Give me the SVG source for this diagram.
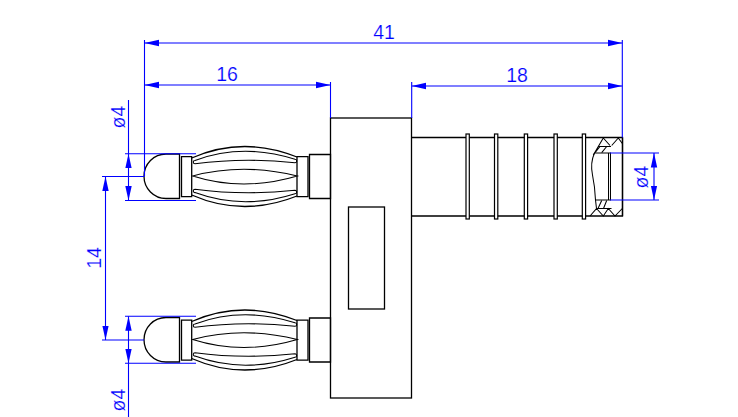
<svg xmlns="http://www.w3.org/2000/svg" width="738" height="417" viewBox="0 0 738 417">
<style>
.k{fill:none;stroke:#000;stroke-width:1.3}
.t{fill:none;stroke:#000;stroke-width:1.05}
.b{fill:none;stroke:#00f;stroke-width:1.1}
.a{marker-start:url(#arr);marker-end:url(#arr)}
text{font-family:"Liberation Sans",Arial,sans-serif;font-size:19.5px;fill:#00f;text-anchor:middle;stroke:#fff;stroke-width:.2}
</style>
<defs>
<marker id="arr" markerUnits="userSpaceOnUse" markerWidth="16" markerHeight="8" refX="14.500" refY="4" orient="auto-start-reverse" viewBox="0 0 16 8"><path d="M14.500 4L0 .8V7.200Z" fill="#00f"/></marker>
<g id="plug">
<path class="k" d="M166 154H179.500V198.500H166A22 22.250 0 0 1 166 154Z"/>
<path class="k" d="M181.500 156.700H191.700V196.700H181.500Z"/>
<path class="k" d="M191.700 158Q243 135.500 297 157M191.700 195Q243 217.500 297 196"/>
<path class="t" d="M195 160.400Q243 142.700 295 159.300A1.700 1.700 0 0 1 295 162.700Q243 157.400 195 163.800A1.700 1.700 0 0 1 195 160.400Z"/>
<path class="t" d="M192.700 176Q243 162.600 297.300 176Q243 192 192.700 176Z"/>
<path class="t" d="M195 192.600Q243 210.300 295 193.700A1.700 1.700 0 0 0 295 190.300Q243 195.600 195 189.200A1.700 1.700 0 0 0 195 192.600Z"/>
<path class="k" d="M297 156.700H308V196.700H297Z"/>
<path class="k" d="M309.500 154.500H330.500V198.500H309.500Z"/>
</g>
</defs>
<rect width="738" height="417" fill="#fff"/>
<g id="plug-top"><use href="#plug"/></g>
<g id="plug-bottom"><use href="#plug" y="163.500"/></g>
<g id="block">
<rect class="k" x="330.500" y="118" width="81" height="280"/>
<rect class="k" x="348.500" y="207" width="36" height="102"/>
</g>
<g id="shaft">
<path class="k" d="M411.500 137.500H622.500V216H411.500"/>
<g fill="#fff" stroke="#000" stroke-width="1.200">
<rect x="466" y="134" width="3.300" height="85"/>
<rect x="494.500" y="134" width="3.300" height="85"/>
<rect x="524.300" y="134" width="3.300" height="85"/>
<rect x="554" y="134" width="3.300" height="85"/>
<rect x="582.300" y="134" width="3.300" height="85"/>
</g>
<path class="k" d="M622.500 137.500V216"/>
<path class="t" d="M594.500 153Q590 163 592.500 175T595.500 200M594.500 153H610.500V200H595.500M608.500 153V200"/>
<path class="t" d="M603.300 138L593.300 155M603.300 138L610 145.500M618.300 138L611.700 145.500M618.300 138L622.500 143.700M598.300 146.500H611M595 152.700L600 146.500M601.700 152.700L606.700 146.500"/>
<path class="t" d="M595.500 200L596.500 208.500L590 216M596.500 208.500H611.500M596.500 208.500L603.300 216L608.300 208.500L615 216L622.300 208.500M598 208.500L601.700 200.500M603.500 208.500L606.700 200.500"/>
</g>
<g id="connectors">
<path class="b a" d="M144.500 43H622.300"/>
<path class="b a" d="M144.500 85H330.500"/>
<path class="b a" d="M411.700 86H622.300"/>
<path class="b" d="M144.500 40V176.500M330.500 82V118M411.700 82V118M622.300 40V137.500"/>
<path class="b" d="M125 153.800H196M125 200.500H196M102 176.500H144M102 340H144M125 316.300H196M125 363.300H196M610 153H659M610 200H659"/>
<path class="b" d="M128.500 100V153.800"/>
<path class="b a" d="M128.500 153.800V200.500"/>
<path class="b a" d="M105.500 176.500V340"/>
<path class="b a" d="M128.500 316.300V363.300"/>
<path class="b" d="M128.500 363.300V417"/>
<path class="b a" d="M654 153V200"/>
</g>
<g id="labels">
<text x="384" y="39">41</text>
<text x="227" y="81">16</text>
<text x="517" y="82">18</text>
<text transform="translate(125 117) rotate(-90)">ø4</text>
<text transform="translate(101 258) rotate(-90)">14</text>
<text transform="translate(125 400) rotate(-90)">ø4</text>
<text transform="translate(648 177) rotate(-90)">ø4</text>
</g>
</svg>
